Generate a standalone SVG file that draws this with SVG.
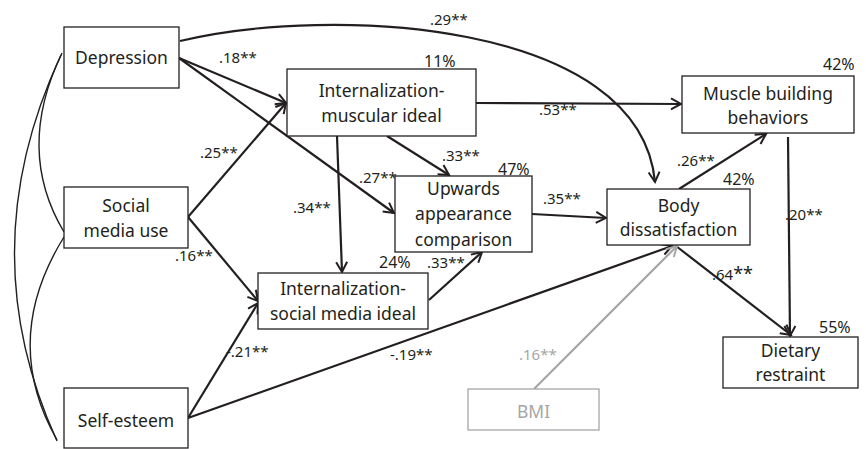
<svg xmlns="http://www.w3.org/2000/svg" width="866" height="449" viewBox="0 0 866 449">
<defs>
<marker id="arr" markerUnits="userSpaceOnUse" markerWidth="14" markerHeight="14" refX="11" refY="6" orient="auto" overflow="visible">
<path d="M1,0.5 L11,6 L1,11.5" fill="none" stroke="#231f20" stroke-width="2"/>
</marker>
<marker id="arrg" markerUnits="userSpaceOnUse" markerWidth="14" markerHeight="14" refX="11" refY="6" orient="auto" overflow="visible">
<path d="M1,0.5 L11,6 L1,11.5" fill="none" stroke="#a6a6a6" stroke-width="2"/>
</marker>
<style>
.box{fill:#fff;stroke:#231f20;stroke-width:1.3}
.gbox{fill:#fff;stroke:#a6a6a6;stroke-width:1.3}
.t{font-family:"Noto Sans","Open Sans","DejaVu Sans",sans-serif;font-size:17.5px;fill:#231f20;text-anchor:middle}
.gt{font-family:"Noto Sans","Open Sans","DejaVu Sans",sans-serif;font-size:17.5px;fill:#a6a6a6;text-anchor:middle}
.e{fill:none;stroke:#231f20;stroke-width:2.2;marker-end:url(#arr)}
.c{fill:none;stroke:#231f20;stroke-width:1.4}
.ge{fill:none;stroke:#a6a6a6;stroke-width:2.2;marker-end:url(#arrg)}
.l{font-family:"Noto Sans","Open Sans","DejaVu Sans",sans-serif;font-size:15px;fill:#231f20}
.gl{font-family:"Noto Sans","Open Sans","DejaVu Sans",sans-serif;font-size:15px;fill:#a6a6a6}
.p{font-family:"Noto Sans","Open Sans","DejaVu Sans",sans-serif;font-size:16px;fill:#231f20}
</style>
</defs>
<rect width="866" height="449" fill="#fff"/>
<g id="connectors">
<path class="c" d="M62,53 Q15,150 64,232"/>
<path class="c" d="M61,55 Q-30,250 57,441"/>
<path class="c" d="M64,237 Q0,340 57,440"/>
<path class="e" d="M180,41 C330,5 640,20 655,182"/>
<path class="e" d="M179,58 L286,103"/>
<path class="e" d="M179,58 L394,213"/>
<path class="e" d="M188,217 L286,103"/>
<path class="e" d="M188,217 L258,301"/>
<path class="e" d="M188,418 L258,303"/>
<path class="e" d="M188,418 L672,246"/>
<path class="e" d="M337,136 L342,272"/>
<path class="e" d="M387,136 L449,175"/>
<path class="e" d="M476,103 L681,104"/>
<path class="e" d="M429,300 L482,252"/>
<path class="e" d="M532,214 L606,218"/>
<path class="e" d="M679,189 L766,134"/>
<path class="e" d="M676,246 L791,335"/>
<path class="e" d="M788,137 L790,336"/>
<path class="ge" d="M534,389 L677,246"/>
<text class="l" x="219" y="63">.18**</text>
<text class="l" x="430" y="25">.29**</text>
<text class="l" x="200" y="158">.25**</text>
<text class="l" x="359" y="183">.27**</text>
<text class="l" x="293" y="213">.34**</text>
<text class="l" x="442" y="161">.33**</text>
<text class="l" x="539" y="115">.53**</text>
<text class="l" x="175" y="261">.16**</text>
<text class="l" x="226" y="357">-.21**</text>
<text class="l" x="427" y="268">.33**</text>
<text class="l" x="543" y="204">.35**</text>
<text class="l" x="677" y="166">.26**</text>
<text class="l" x="390" y="360">-.19**</text>
<text class="gl" x="519" y="360">.16**</text>
<text class="l" x="712" y="280">.64<tspan font-size="18">**</tspan></text>
<text class="l" x="785" y="220">.20**</text>
</g>
<g id="depression">
<rect class="box" x="64" y="27" width="115" height="61"/>
<text class="t" x="121.5" y="64">Depression</text>
</g>
<g id="social-media-use">
<rect class="box" x="64" y="187" width="124" height="61"/>
<text class="t" x="126" y="212">Social</text>
<text class="t" x="126" y="237">media use</text>
</g>
<g id="self-esteem">
<rect class="box" x="64" y="388" width="124" height="60"/>
<text class="t" x="126" y="427">Self-esteem</text>
</g>
<g id="int-muscular">
<rect class="box" x="287" y="69" width="189" height="67"/>
<text class="t" x="381.5" y="97">Internalization-</text>
<text class="t" x="381.5" y="122">muscular ideal</text>
<text class="p" x="424" y="67" font-size="18">11%</text>
</g>
<g id="upwards">
<rect class="box" x="395" y="176" width="137" height="76"/>
<text class="t" x="463.5" y="195">Upwards</text>
<text class="t" x="463.5" y="220">appearance</text>
<text class="t" x="463.5" y="246">comparison</text>
<text class="p" x="498" y="175">47%</text>
</g>
<g id="int-social">
<rect class="box" x="258" y="273" width="170" height="56"/>
<text class="t" x="343" y="295">Internalization-</text>
<text class="t" x="343" y="320">social media ideal</text>
<text class="p" x="379" y="268">24%</text>
</g>
<g id="body-dissatisfaction">
<rect class="box" x="607" y="189" width="143" height="56"/>
<text class="t" x="678.5" y="212">Body</text>
<text class="t" x="678.5" y="236">dissatisfaction</text>
<text class="p" x="723" y="185">42%</text>
</g>
<g id="muscle-building">
<rect class="box" x="682" y="76" width="172" height="57"/>
<text class="t" x="768" y="100">Muscle building</text>
<text class="t" x="768" y="124">behaviors</text>
<text class="p" x="823" y="70">42%</text>
</g>
<g id="dietary-restraint">
<rect class="box" x="723" y="337" width="135" height="51"/>
<text class="t" x="790.5" y="357">Dietary</text>
<text class="t" x="790.5" y="381">restraint</text>
<text class="p" x="819" y="333">55%</text>
</g>
<g id="bmi">
<rect class="gbox" x="468" y="389" width="131" height="41"/>
<text class="gt" x="533.5" y="418">BMI</text>
</g>
</svg>
